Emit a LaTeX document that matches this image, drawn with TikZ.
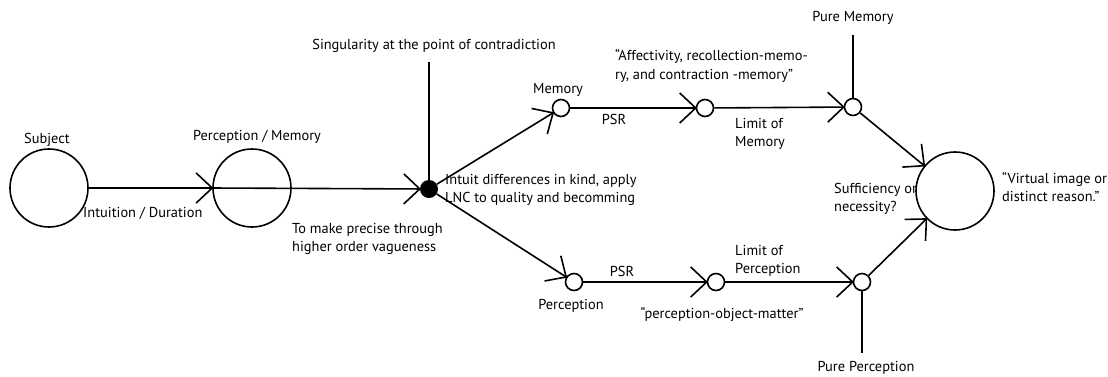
\documentclass[tikz,border=0pt]{standalone}
\usepackage{fontspec}
\setmainfont{PT Sans}
\usetikzlibrary{decorations.markings}
\begin{document}
\begin{tikzpicture}[x=1pt,y=-1pt,
  every node/.style={font=\fontsize{14.4}{18.5}\selectfont},
  bigc/.style={circle,draw,line width=1.6pt,minimum size=78pt,inner sep=0pt},
  smallc/.style={circle,draw,line width=1.6pt,minimum size=17pt,inner sep=0pt},
  dotc/.style={circle,fill=black,minimum size=18pt,inner sep=0pt},
  lab/.style={inner sep=0pt,align=left},
  conn/.style={line width=1.6pt},
  arr/.style={conn,postaction={decorate,decoration={markings,
    mark=at position 1 with {\draw[line width=1.6pt] (-16pt,15pt)--(0pt,0pt)--(-16pt,-15pt);}}}}]
\useasboundingbox (0,0) rectangle (1108,376);
% nodes
\node[bigc] (subj) at (49,188) {};
\node[bigc] (pm) at (252,188) {};
\node[dotc] (dot) at (429,189) {};
\node[smallc] (mem) at (561,108) {};
\node[smallc] (m2) at (705,108) {};
\node[smallc] (m3) at (853,107) {};
\node[smallc] (per) at (574,282) {};
\node[smallc] (p2) at (716,282) {};
\node[smallc] (p3) at (862,282) {};
\node[bigc] (vi) at (955,191) {};
\coordinate (sing) at (429,62);
\coordinate (pmtop) at (853,35);
\coordinate (ppbot) at (862,353);
% connectors
\draw[arr] (subj) -- (pm);
\draw[arr] (pm.west) -- (dot);
\draw[conn] (sing) -- (dot);
\draw[arr] (dot) -- (mem);
\draw[arr] (dot) -- (per);
\draw[arr] (mem) -- (m2);
\draw[arr] (m2) -- (m3);
\draw[arr] (per) -- (p2);
\draw[arr] (p2) -- (p3);
\draw[conn] (pmtop) -- (m3);
\draw[conn] (ppbot) -- (p3);
\draw[arr] (m3) -- (vi);
\draw[arr] (p3) -- (vi);
% labels
\node[lab] (l1) at (47,140) {Subject};
\node[lab] (l2) at (257,137) {Perception / Memory};
\node[lab,anchor=west] (l3) at (83,213) {Intuition / Duration};
\node[lab,anchor=west] (l4) at (292,239) {To make precise through\\higher order vagueness};
\node[lab] (l5) at (434,46) {Singularity at the point of contradiction};
\node[lab,anchor=west] (l6) at (445,190) {Intuit differences in kind, apply\\LNC to quality and becomming};
\node[lab] (l7) at (558,90) {Memory};
\node[lab] (l8) at (614,119) {PSR};
\node[lab,anchor=west] (l9) at (615,66) {“Affectivity, recollection-memo-\\ry, and contraction -memory”};
\node[lab,anchor=west] (l10) at (735,134) {Limit of\\Memory};
\node[lab] (l11) at (853,18) {Pure Memory};
\node[lab,anchor=west] (l12) at (834,199) {Sufficiency or\\necessity?};
\node[lab,anchor=west] (l13) at (1002,187) {“Virtual image or\\distinct reason.”};
\node[lab] (l14) at (571,306) {Perception};
\node[lab] (l15) at (622,271) {PSR};
\node[lab,anchor=west] (l16) at (735,261) {Limit of\\Perception};
\node[lab] (l17) at (722,314) {“perception-object-matter”};
\node[lab] (l18) at (866,368) {Pure Perception};
\end{tikzpicture}
\end{document}
